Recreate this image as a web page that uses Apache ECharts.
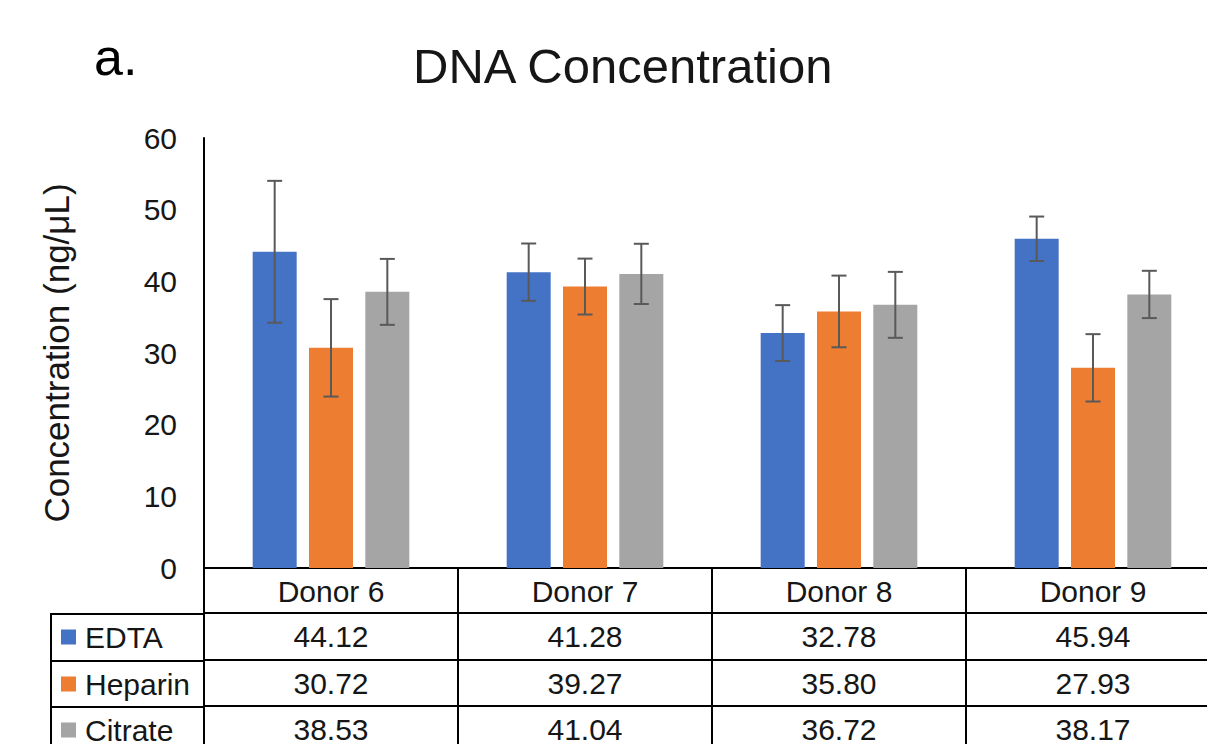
<!DOCTYPE html>
<html>
<head>
<meta charset="utf-8">
<script src="https://cdn.jsdelivr.net/npm/echarts@6/dist/echarts.min.js"></script>
<style>
  html, body { margin: 0; padding: 0; background: #fff; overflow: hidden; width: 1207px; height: 744px; }
  /* the reference figure is cropped on its right edge: the plot runs slightly past the frame */
  #chart { width: 1220px; height: 744px; }
</style>
</head>
<body>
<div id="chart"></div>
<script>
// ---- data ----
const categories = ['Donor 6', 'Donor 7', 'Donor 8', 'Donor 9'];
const seriesNames = ['EDTA', 'Heparin', 'Citrate'];
const edta = [44.12, 41.28, 32.78, 45.94];
const heparin = [30.72, 39.27, 35.80, 27.93];
const citrate = [38.53, 41.04, 36.72, 38.17];
const edtaErr = [9.9, 4.0, 3.9, 3.1];
const heparinErr = [6.8, 3.9, 5.0, 4.7];
const citrateErr = [4.6, 4.2, 4.6, 3.3];
const yMin = 0, yMax = 60, yStep = 10;
const titleText = 'DNA Concentration';
const panelLabel = 'a.';
const yAxisTitle = 'Concentration (ng/μL)';

// ---- style / layout ----
const colors = ['#4472C4', '#ED7D31', '#A5A5A5'];
const FONT = "'Liberation Sans', Arial, sans-serif";
const TXT = '#161616';
const LINE = '#000';
const GRID_LEFT = 204, GRID_TOP = 138, GRID_BOTTOM_Y = 569, GRID_RIGHT = 0;
const ROW_OFFSETS = [45, 92, 138];          // table row top borders below x axis
const ROW_H = 46;
const TABLE_LEFT = 51;
const BAR_W = 44, BAR_GAP = 0.28;

const values = [edta, heparin, citrate];
const errs = [edtaErr, heparinErr, citrateErr];

const chart = echarts.init(document.getElementById('chart'), null, { renderer: 'svg' });

const barSeries = seriesNames.map((name, g) => ({
  name,
  type: 'bar',
  xAxisIndex: 0,
  yAxisIndex: 0,
  data: values[g],
  barWidth: BAR_W,
  barGap: (BAR_GAP * 100) + '%',
  itemStyle: { color: colors[g] },
  z: 2
}));

const errSeries = seriesNames.map((name, g) => ({
  name: name + ' error',
  type: 'custom',
  xAxisIndex: 0,
  yAxisIndex: 0,
  z: 5,
  data: categories.map((c, i) => [i, values[g][i], errs[g][i]]),
  renderItem: function (params, api) {
    const i = api.value(0), v = api.value(1), e = api.value(2);
    const hi = api.coord([i, v + e]);
    const lo = api.coord([i, v - e]);
    const off = (g - 1) * BAR_W * (1 + BAR_GAP);
    const x = hi[0] + off;
    const cap = 7.5;
    const st = { stroke: '#595959', lineWidth: 2 };
    return {
      type: 'group',
      children: [
        { type: 'line', shape: { x1: x, y1: hi[1], x2: x, y2: lo[1] }, style: st },
        { type: 'line', shape: { x1: x - cap, y1: hi[1], x2: x + cap, y2: hi[1] }, style: st },
        { type: 'line', shape: { x1: x - cap, y1: lo[1], x2: x + cap, y2: lo[1] }, style: st }
      ]
    };
  }
}));

// table row axes (values drawn as category-axis labels)
const rowAxes = values.map((arr, g) => ({
  type: 'category',
  gridIndex: 0,
  position: 'bottom',
  offset: ROW_OFFSETS[g],
  data: categories,
  axisLine: { show: true, lineStyle: { color: LINE, width: 2 } },
  axisTick: { show: false },
  axisLabel: {
    show: true,
    interval: 0,
    margin: 23,
    verticalAlign: 'middle',
    fontSize: 30,
    fontFamily: FONT,
    color: TXT,
    formatter: (val, idx) => arr[idx].toFixed(2)
  },
  splitLine: { show: false }
}));

// one legend per table row (row header cells)
const legends = seriesNames.map((name, g) => ({
  data: [name],
  orient: 'horizontal',
  left: 61,
  top: GRID_BOTTOM_Y + ROW_OFFSETS[g] + (ROW_H - 30) / 2,
  padding: 0,
  itemWidth: 15,
  itemHeight: 15,
  icon: 'rect',
  selectedMode: false,
  textStyle: { fontSize: 30, lineHeight: 30, fontFamily: FONT, color: TXT, padding: [0, 0, 0, 4] }
}));

const tableH = 744 - GRID_BOTTOM_Y + 10;

const option = {
  animation: false,
  backgroundColor: '#fff',
  title: [
    {
      text: panelLabel, left: 94, top: 31, padding: 0,
      textStyle: { fontSize: 52, lineHeight: 52, fontWeight: 'normal', fontFamily: FONT, color: '#000' }
    },
    {
      text: titleText, left: 413, top: 41, padding: 0,
      textStyle: { fontSize: 49, lineHeight: 49, fontWeight: 'normal', fontFamily: FONT, color: TXT }
    }
  ],
  legend: legends,
  grid: {
    left: GRID_LEFT,
    top: GRID_TOP,
    right: GRID_RIGHT,
    height: GRID_BOTTOM_Y - GRID_TOP,
    containLabel: false
  },
  xAxis: [
    {
      type: 'category',
      data: categories,
      position: 'bottom',
      axisLine: { show: true, lineStyle: { color: LINE, width: 2 } },
      axisTick: { show: true, length: tableH, inside: false, interval: 0, lineStyle: { color: LINE, width: 2 } },
      axisLabel: {
        interval: 0, margin: 23, verticalAlign: 'middle',
        fontSize: 30, fontFamily: FONT, color: TXT
      },
      splitLine: { show: false }
    }
  ].concat(rowAxes),
  yAxis: {
    type: 'value',
    min: yMin,
    max: yMax,
    interval: yStep,
    axisLine: { show: true, lineStyle: { color: LINE, width: 2 } },
    axisTick: { show: false },
    splitLine: { show: false },
    axisLabel: { margin: 27, fontSize: 30, fontFamily: FONT, color: TXT },
    name: yAxisTitle,
    nameLocation: 'middle',
    nameRotate: 90,
    nameGap: 130,
    nameTextStyle: { fontSize: 35, lineHeight: 35, fontFamily: FONT, color: TXT }
  },
  series: barSeries.concat(errSeries)
};

chart.setOption(option);

// left column border of the table (the row-header cells), positioned from the grid layout
const rowLines = ROW_OFFSETS.map(o => ({
  type: 'line',
  shape: { x1: TABLE_LEFT, y1: GRID_BOTTOM_Y + o, x2: GRID_LEFT, y2: GRID_BOTTOM_Y + o },
  style: { stroke: LINE, lineWidth: 2 },
  z: 10
}));
chart.setOption({
  graphic: rowLines.concat([{
    type: 'line',
    shape: { x1: TABLE_LEFT, y1: GRID_BOTTOM_Y + ROW_OFFSETS[0] - 1, x2: TABLE_LEFT, y2: 760 },
    style: { stroke: LINE, lineWidth: 2 },
    z: 10
  }])
});
</script>
</body>
</html>
